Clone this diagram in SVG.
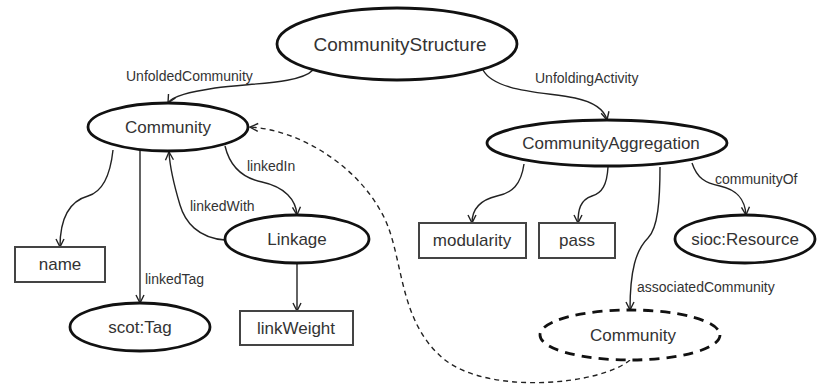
<svg xmlns="http://www.w3.org/2000/svg" width="817" height="389" viewBox="0 0 817 389">
<defs>
<marker id="arr" markerUnits="userSpaceOnUse" markerWidth="12" markerHeight="12" viewBox="-10 -6 12 12" refX="0" refY="0" orient="auto">
<path d="M-8,-4 L0,0 L-8,4" fill="none" stroke="#222" stroke-width="1.4"/>
</marker>
<style>
.node ellipse{fill:#fff;stroke:#111;stroke-width:2.8}
.node rect{fill:#fff;stroke:#444;stroke-width:2}
.node text{font-family:"Liberation Sans",Arial,sans-serif;font-size:17px;fill:#333;text-anchor:middle}
.edge{fill:none;stroke:#222;stroke-width:1.4;marker-end:url(#arr)}
.dash{stroke-dasharray:5,4}
.lbl{font-family:"Liberation Sans",Arial,sans-serif;font-size:14px;fill:#333}
</style>
</defs>
<rect width="817" height="389" fill="#fff"/>
<g id="connectors">
<path class="edge" d="M313,70 C300,84 250,83 215,88 C190,92 172,96 168,103"/>
<path class="edge" d="M483,70 C495,92 545,92 575,98 C598,103 605,112 607,120"/>
<path class="edge" d="M113,150 C110,178 102,192 88,196 C70,201 60,218 60,247"/>
<path class="edge" d="M140,151 L140,303"/>
<path class="edge" d="M225,240 C198,238 185,222 180,205 C174,185 170,170 169,152"/>
<path class="edge" d="M225,146 C230,167 242,178 262,182 C285,187 296,200 297,215"/>
<path class="edge" d="M297,263 L297,311"/>
<path class="edge" d="M524,164 C521,185 512,193 497,196 C480,200 472,210 472,223"/>
<path class="edge" d="M608,167 C607,185 602,193 592,196 C580,200 578,210 578,223"/>
<path class="edge" d="M660,167 C660,200 658,228 648,238 C636,250 630,270 630,310"/>
<path class="edge" d="M692,163 C697,178 705,183 720,186 C738,190 745,200 746,215"/>
<path class="edge dash" d="M630,360 C600,385 490,395 445,360 C395,320 405,250 380,210 C355,165 300,130 250,127"/>
<text class="lbl" x="126" y="81">UnfoldedCommunity</text>
<text class="lbl" x="535" y="83">UnfoldingActivity</text>
<text class="lbl" x="247" y="171">linkedIn</text>
<text class="lbl" x="190" y="211">linkedWith</text>
<text class="lbl" x="145" y="284">linkedTag</text>
<text class="lbl" x="715" y="184">communityOf</text>
<text class="lbl" x="637" y="292">associatedCommunity</text>
</g>
<g id="n-structure" class="node"><ellipse cx="397" cy="44" rx="120" ry="36"/><text x="400" y="51" style="font-size:19px">CommunityStructure</text></g>
<g id="n-community" class="node"><ellipse cx="168" cy="127" rx="80" ry="24"/><text x="168" y="133">Community</text></g>
<g id="n-aggregation" class="node"><ellipse cx="607" cy="143" rx="120" ry="23"/><text x="611" y="149">CommunityAggregation</text></g>
<g id="n-name" class="node"><rect x="15" y="247" width="90" height="35"/><text x="60" y="270">name</text></g>
<g id="n-linkage" class="node"><ellipse cx="297" cy="239" rx="72" ry="24"/><text x="297" y="245">Linkage</text></g>
<g id="n-scottag" class="node"><ellipse cx="140" cy="327" rx="70" ry="24"/><text x="140" y="333">scot:Tag</text></g>
<g id="n-linkweight" class="node"><rect x="240" y="311" width="113" height="34"/><text x="296" y="334">linkWeight</text></g>
<g id="n-modularity" class="node"><rect x="419" y="223" width="107" height="35"/><text x="472" y="246">modularity</text></g>
<g id="n-pass" class="node"><rect x="539" y="223" width="76" height="35"/><text x="577" y="246">pass</text></g>
<g id="n-resource" class="node"><ellipse cx="745" cy="239" rx="70" ry="24"/><text x="745" y="245">sioc:Resource</text></g>
<g id="n-community2" class="node"><ellipse cx="630" cy="335" rx="90" ry="25" style="stroke-dasharray:10,7"/><text x="633" y="341">Community</text></g>
</svg>
